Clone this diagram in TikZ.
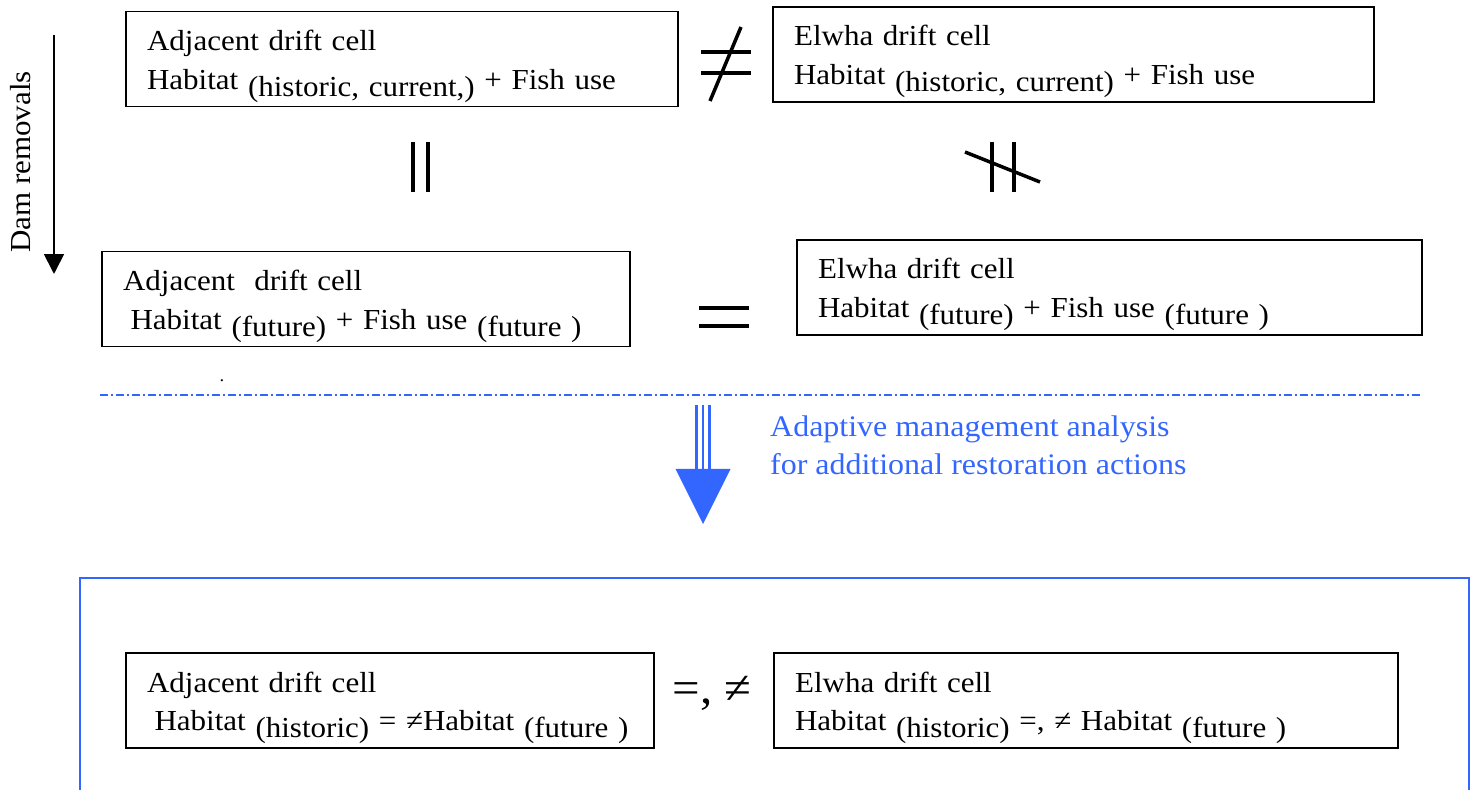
\documentclass[tikz,border=0pt]{standalone}
\usepackage{fontspec}
\setmainfont{Liberation Serif}[FakeStretch=1.07]
\usepackage{xcolor}
\usepackage{tikz}
\usetikzlibrary{arrows.meta}

\definecolor{mgmtblue}{HTML}{3366FF}
\newcommand{\lowtxt}[1]{\raisebox{-0.14cm}{#1}}

\tikzset{
    cellbox/.style={draw, line width=1pt, align=left, inner xsep=0.42cm, minimum height=1.9cm,
        text height=0.5cm, text depth=0.84cm, font=\fontsize{16.5}{22}\selectfont},
    relbar/.style={line width=2.2pt},
}

\begin{document}
\begin{tikzpicture}[x=0.02cm, y=-0.02cm]
    \useasboundingbox (0,0) rectangle (1475,790);

    % Drift cells before dam removal
    \node[cellbox, text width=10.2cm] (adjOld) at (402,59) {Adjacent drift cell\\Habitat \lowtxt{(historic, current,)} + Fish use};
    \node[cellbox, text width=11.18cm] (elwhaOld) at (1073.5,54.5) {Elwha drift cell\\Habitat \lowtxt{(historic, current)} + Fish use};

    % Drift cells after dam removal
    \node[cellbox, text width=9.72cm] (adjFut) at (366,299) {Adjacent\ \ drift cell\\\hspace{0.15cm}Habitat \lowtxt{(future)} + Fish use \lowtxt{(future )}};
    \node[cellbox, text width=11.66cm] (elwhaFut) at (1109.5,287.5) {Elwha drift cell\\Habitat \lowtxt{(future)} + Fish use \lowtxt{(future )}};
    \node[font=\fontsize{10}{10}\selectfont] (stray) at (222,381) {.};

    % Relations
    \draw[relbar] (701,52) -- (751,52);
    \draw[relbar] (701,73) -- (751,73);
    \draw[line width=2pt] (741,27) -- (710,101);
    \draw[relbar] (413,142) -- (413,192);
    \draw[relbar] (428,142) -- (428,192);
    \draw[relbar] (992,142) -- (992,192);
    \draw[relbar] (1014,142) -- (1014,192);
    \draw[line width=2pt] (965,152) -- (1040,182);
    \draw[relbar] (699,308) -- (749,308);
    \draw[relbar] (699,326) -- (749,326);

    % Dam removals
    \coordinate (damTop) at (54,35);
    \coordinate (damEnd) at (54,274);
    \draw[line width=1pt, -{Triangle[length=0.4cm, width=0.4cm]}] (damTop) -- (damEnd);
    \node[rotate=90, font=\fontsize{16.5}{16.5}\selectfont] (damLbl) at (21,162) {Dam removals};

    % Adaptive management
    \draw[mgmtblue, line width=1.2pt, dash pattern=on 0.16cm off 0.06cm on 0.04cm off 0.06cm] (100,395) -- (1420,395);
    \coordinate (mgTop) at (703,405);
    \coordinate (mgBase) at (703,469);
    \coordinate (mgTip) at (703,524);
    \foreach \dx in {-0.13,0,0.13}
        \draw[mgmtblue, line width=1.3pt] ([xshift=\dx cm]mgTop) -- ([xshift=\dx cm]mgBase);
    \fill[mgmtblue] ([xshift=-0.55cm]mgBase) -- ([xshift=0.55cm]mgBase) -- (mgTip) -- cycle;
    \node[mgmtblue, anchor=west, align=left, font=\fontsize{17}{21.6}\selectfont] (mgLbl) at (764,445) {Adaptive management analysis\\for additional restoration actions};

    % Restoration outcome
    \draw[mgmtblue, line width=1.2pt] (80,790) -- (80,578) -- (1469,578) -- (1469,790);
    \node[cellbox, text width=9.72cm] (adjRes) at (390,700.5) {Adjacent drift cell\\\hspace{0.15cm}Habitat \lowtxt{(historic)} = ≠Habitat \lowtxt{(future )}};
    \node[cellbox, text width=11.64cm] (elwhaRes) at (1086,700.5) {Elwha drift cell\\Habitat \lowtxt{(historic)} =, ≠ Habitat \lowtxt{(future )}};
    \node[font=\fontsize{26}{26}\selectfont] (resRel) at (712,693) {=, ≠};
\end{tikzpicture}
\end{document}
